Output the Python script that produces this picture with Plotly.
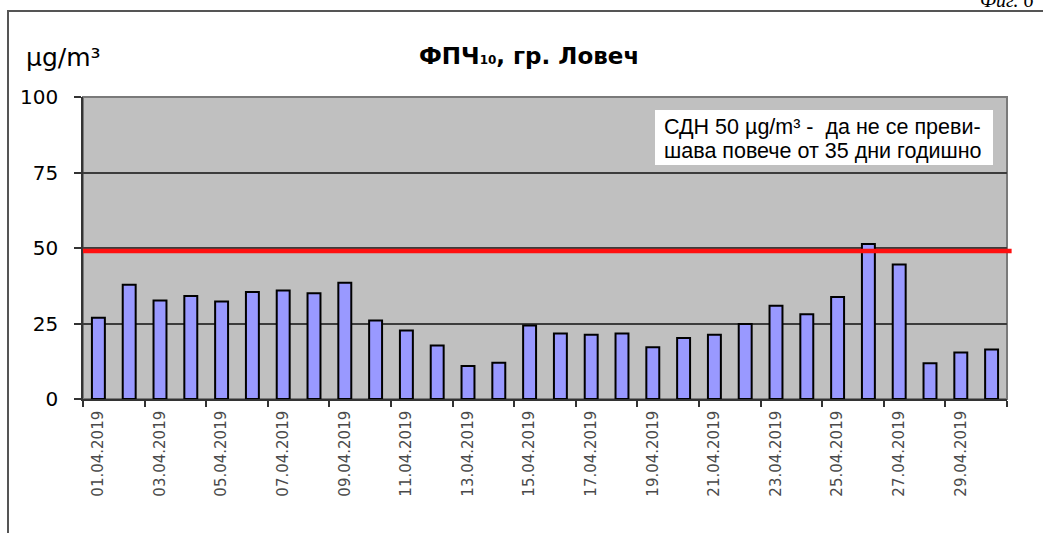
import plotly.graph_objects as go

dates = ["01.04.2019", "02.04.2019", "03.04.2019", "04.04.2019", "05.04.2019",
         "06.04.2019", "07.04.2019", "08.04.2019", "09.04.2019", "10.04.2019",
         "11.04.2019", "12.04.2019", "13.04.2019", "14.04.2019", "15.04.2019",
         "16.04.2019", "17.04.2019", "18.04.2019", "19.04.2019", "20.04.2019",
         "21.04.2019", "22.04.2019", "23.04.2019", "24.04.2019", "25.04.2019",
         "26.04.2019", "27.04.2019", "28.04.2019", "29.04.2019", "30.04.2019"]
pm10 = [26.9, 37.8, 32.6, 34.1, 32.3, 35.4, 35.9, 35.0, 38.5, 26.0,
        22.7, 17.7, 10.9, 12.0, 24.3, 21.7, 21.3, 21.7, 17.1, 20.2,
        21.3, 24.8, 30.9, 28.1, 33.8, 51.3, 44.5, 11.8, 15.4, 16.4]
limit_value = 49
y_ticks = [0, 25, 50, 75, 100]

title_text = "<b>ФПЧ<span style='font-size:12px'>10</span>, гр. Ловеч</b>"
unit_text = "µg/m³"
note_line1 = "СДН 50 µg/m³ -  да не се преви-"
note_line2 = "шава повече от 35 дни годишно"
fig_label = "Фиг. 6"

W, H = 1043, 533
L, R, T, B = 83, 36, 97, 134
pw, ph = W - L - R, H - T - B

def px(x):
    return (x - L) / pw

def py(y):
    return (H - B - y) / ph

fig = go.Figure()
fig.add_trace(go.Bar(
    x=dates, y=pm10,
    marker=dict(color="#9999FF", line=dict(color="#000000", width=2)),
    width=0.42,
    showlegend=False,
))

shapes = [
    # plot frame (gray)
    dict(type="rect", xref="paper", yref="paper", x0=0, x1=1, y0=0, y1=1,
         line=dict(color="#7a7a7a", width=2), layer="below"),
    # limit line
    dict(type="line", xref="paper", yref="y", x0=0, x1=1.005,
         y0=limit_value, y1=limit_value,
         line=dict(color="#FF1010", width=4.5), layer="above"),
    # note box
    dict(type="rect", xref="paper", yref="paper", x0=px(655), x1=px(993),
         y0=py(110), y1=py(165), fillcolor="#FFFFFF", line=dict(width=0),
         layer="above"),
    # outer document frame
    dict(type="line", xref="paper", yref="paper", x0=px(8), x1=px(8),
         y0=py(11), y1=py(540), line=dict(color="#555555", width=2)),
    dict(type="line", xref="paper", yref="paper", x0=px(7), x1=px(1050),
         y0=py(11), y1=py(11), line=dict(color="#555555", width=2)),
]

annotations = [
    dict(text=title_text, xref="paper", yref="paper", x=px(529), y=py(56),
         xanchor="center", yanchor="middle", showarrow=False,
         font=dict(family="DejaVu Sans", size=23, color="#000000")),
    dict(text=unit_text, xref="paper", yref="paper", x=px(24), y=py(57),
         xanchor="left", yanchor="middle", showarrow=False,
         font=dict(family="DejaVu Sans", size=25, color="#000000")),
    dict(text=note_line1, xref="paper", yref="paper", x=px(662), y=py(127),
         xanchor="left", yanchor="middle", showarrow=False,
         font=dict(family="Liberation Sans, Arial", size=21.5, color="#000000")),
    dict(text=note_line2, xref="paper", yref="paper", x=px(662), y=py(151),
         xanchor="left", yanchor="middle", showarrow=False,
         font=dict(family="Liberation Sans, Arial", size=21.5, color="#000000")),
    dict(text="<i>" + fig_label + "</i>", xref="paper", yref="paper",
         x=px(1036), y=py(0), xanchor="right", yanchor="middle", showarrow=False,
         font=dict(family="Liberation Serif, Times New Roman", size=20, color="#000000")),
]

fig.update_layout(
    width=W, height=H,
    margin=dict(l=L, r=R, t=T, b=B, pad=0, autoexpand=False),
    paper_bgcolor="#FFFFFF",
    plot_bgcolor="#C0C0C0",
    bargap=0.58,
    shapes=shapes,
    annotations=annotations,
    font=dict(family="DejaVu Sans", color="#000000"),
)
fig.update_xaxes(
    type="category",
    tickmode="linear", dtick=2, tick0=0,
    tickson="boundaries",
    ticks="outside", ticklen=6, tickcolor="#333333", tickwidth=1.5,
    tickangle=-90,
    tickfont=dict(family="DejaVu Sans", size=15, color="#4a4a4a"),
    ticklabelstandoff=4,
    showgrid=False,
    showline=True, linecolor="#333333", linewidth=1.5,
    range=[-0.5, 29.5],
)
fig.update_yaxes(
    range=[0, 100],
    tickvals=y_ticks,
    ticks="outside", ticklen=7, tickcolor="#333333", tickwidth=1.5,
    tickfont=dict(family="DejaVu Sans", size=20, color="#000000"),
    ticklabelstandoff=12,
    showgrid=True, gridcolor="#3c3c3c", gridwidth=1.5,
    showline=True, linecolor="#333333", linewidth=1.5,
    zeroline=False,
)

fig.write_html("out.html", config={"displayModeBar": False},
               post_script="document.body.style.margin='0px';")
